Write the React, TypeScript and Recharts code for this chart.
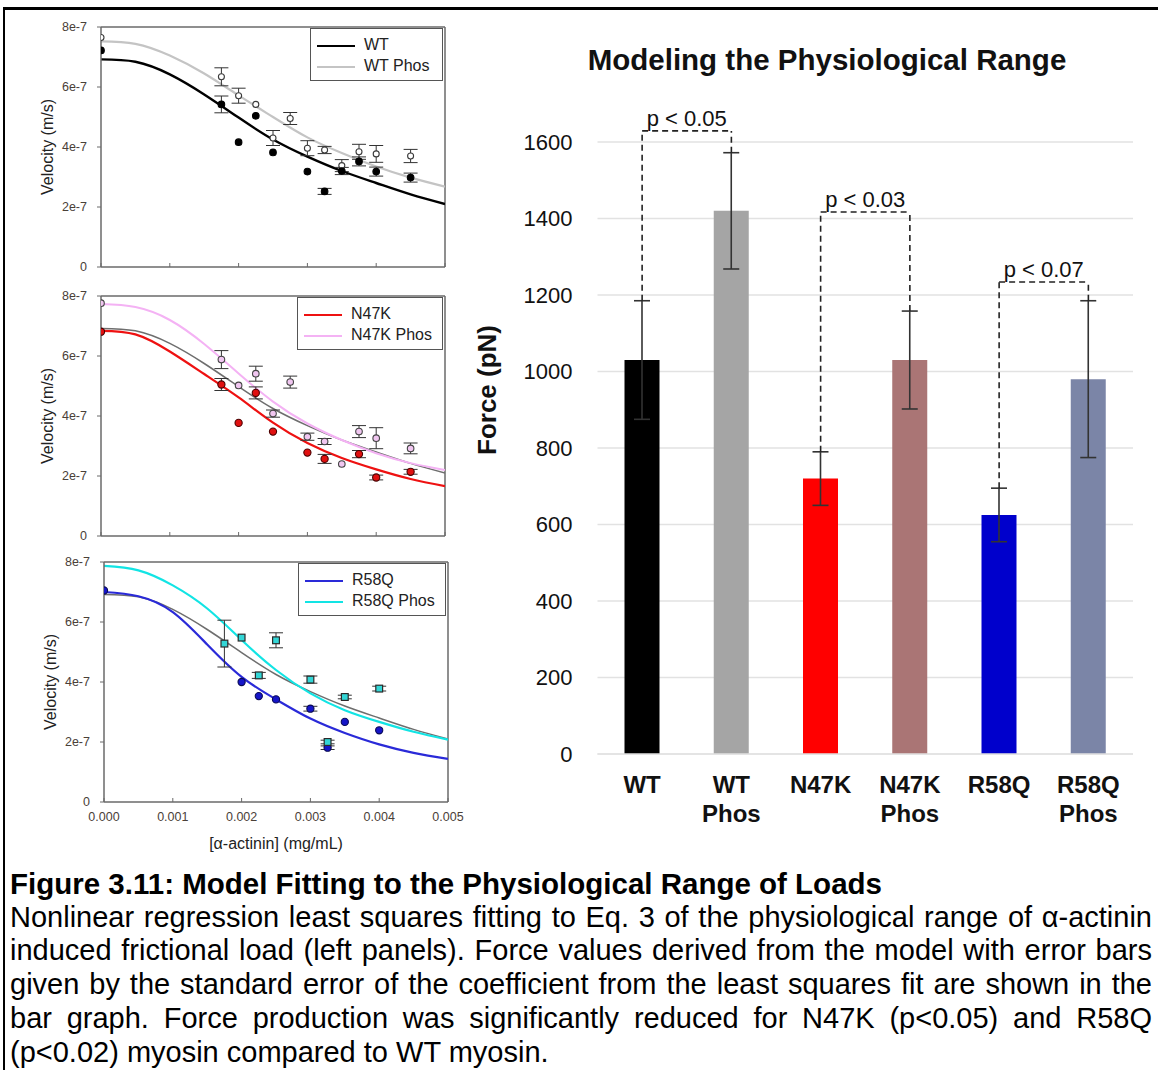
import React from 'react';
import {
  ComposedChart, Line, Scatter, ErrorBar, XAxis, YAxis, ReferenceLine,
  BarChart, Bar, Cell, CartesianGrid,
} from 'recharts';

const FONT = '"Liberation Sans", Arial, Helvetica, sans-serif';
const AXIS = '#6a6a6a';
const TICK_TXT = '#4a4038';

// ---------- left panels: velocity (x1e-7 m/s) vs [α-actinin] (mg/mL) ----------
const concTicks = [0, 0.001, 0.002, 0.003, 0.004, 0.005];
const velTicks = [0, 2, 4, 6, 8];

// fitted curves at these concentrations
const fitConc = [0, 0.0005, 0.001, 0.0015, 0.002, 0.0025, 0.003, 0.0035, 0.004, 0.0045, 0.005];
const wtFit = [6.92, 6.84, 6.42, 5.75, 4.98, 4.25, 3.68, 3.2, 2.8, 2.42, 2.1];
const wtPhosFit = [7.52, 7.44, 7.05, 6.45, 5.72, 5.0, 4.32, 3.8, 3.35, 2.98, 2.68];
const n47kFit = [6.84, 6.72, 6.15, 5.4, 4.62, 3.78, 3.1, 2.6, 2.22, 1.9, 1.66];
const n47kPhosFit = [7.73, 7.63, 7.2, 6.4, 5.42, 4.48, 3.75, 3.2, 2.76, 2.43, 2.2];
const r58qFit = [7.0, 6.86, 6.33, 5.25, 4.17, 3.42, 2.78, 2.3, 1.92, 1.64, 1.44];
const r58qPhosFit = [7.87, 7.72, 7.22, 6.45, 5.4, 4.4, 3.62, 3.06, 2.67, 2.34, 2.08];

// measured points
const wtX = [0, 0.00175, 0.002, 0.00225, 0.0025, 0.003, 0.00325, 0.0035, 0.00375, 0.004, 0.0045];
const wtV = [7.22, 5.42, 4.16, 5.04, 3.82, 3.18, 2.52, 3.2, 3.52, 3.18, 2.98];
const wtErr = [0, 0.28, 0, 0, 0, 0, 0.1, 0.12, 0.15, 0.15, 0.15];

const wtPhosX = [0, 0.00175, 0.002, 0.00225, 0.0025, 0.00275, 0.003, 0.00325, 0.0035, 0.00375, 0.004, 0.0045];
const wtPhosV = [7.65, 6.34, 5.71, 5.42, 4.3, 4.95, 3.96, 3.9, 3.38, 3.84, 3.77, 3.7];
const wtPhosErr = [0, 0.3, 0.25, 0, 0.25, 0.2, 0.25, 0.12, 0.2, 0.25, 0.28, 0.22];

const n47kX = [0, 0.00175, 0.002, 0.00225, 0.0025, 0.003, 0.00325, 0.00375, 0.004, 0.0045];
const n47kV = [6.81, 5.05, 3.77, 4.77, 3.48, 2.78, 2.57, 2.73, 1.95, 2.14];
const n47kErr = [0, 0.2, 0, 0.2, 0, 0, 0.15, 0.12, 0.08, 0.08];

const n47kPhosX = [0, 0.00175, 0.002, 0.00225, 0.0025, 0.00275, 0.003, 0.00325, 0.0035, 0.00375, 0.004, 0.0045];
const n47kPhosV = [7.76, 5.88, 5.02, 5.41, 4.08, 5.13, 3.31, 3.15, 2.4, 3.48, 3.26, 2.92];
const n47kPhosErr = [0, 0.3, 0, 0.25, 0.12, 0.2, 0.12, 0.1, 0, 0.2, 0.35, 0.18];

const r58qX = [0, 0.002, 0.00225, 0.0025, 0.003, 0.00325, 0.0035, 0.004];
const r58qV = [7.05, 4.0, 3.53, 3.42, 3.11, 1.81, 2.67, 2.39];
const r58qErr = [0, 0, 0, 0, 0.08, 0.06, 0, 0];

const r58qPhosX = [0.00175, 0.002, 0.00225, 0.0025, 0.003, 0.00325, 0.0035, 0.004];
const r58qPhosV = [5.28, 5.48, 4.22, 5.39, 4.08, 2.0, 3.5, 3.78];
const r58qPhosErr = [0.78, 0, 0.1, 0.25, 0.12, 0.06, 0.06, 0.08];

// ---------- right panel: force ----------
const groups = ['WT', 'WT Phos', 'N47K', 'N47K Phos', 'R58Q', 'R58Q Phos'];
const force = [1030, 1420, 720, 1030, 625, 980];
const forceErr = [155, 152, 70, 128, 70, 205];
const forceTicks = [0, 200, 400, 600, 800, 1000, 1200, 1400, 1600];
const barColors = ['#000000', '#a5a5a5', '#ff0000', '#aa7575', '#0000cc', '#7b85a7'];

const sigPairs = [['WT', 'WT Phos'], ['N47K', 'N47K Phos'], ['R58Q', 'R58Q Phos']];
const sigLabels = ['p < 0.05', 'p < 0.03', 'p < 0.07'];
const sigLevels = [1629, 1417, 1234];

const captionTitle = 'Figure 3.11: Model Fitting to the Physiological Range of Loads';
const captionLines = [
  'Nonlinear regression least squares fitting to Eq. 3 of the physiological range of α-actinin',
  'induced frictional load (left panels). Force values derived from the model with error bars',
  'given by the standard error of the coefficient from the least squares fit are shown in the',
  'bar graph. Force production was significantly reduced for N47K (p<0.05) and R58Q',
  '(p<0.02) myosin compared to WT myosin.',
];

const fitData = (vals: number[]) => fitConc.map((x, i) => ({ x, v: vals[i] }));
const ptData = (xs: number[], vs: number[], es: number[]) =>
  xs.map((x, i) => ({ x, v: vs[i], err: es[i] }));

type Fit = { data: { x: number; v: number }[]; color: string; w: number };
type Pts = { data: any[]; fill: string; stroke: string; r: number; square?: boolean };
type LegendItem = { name: string; color: string };

const refFit: Fit = { data: fitData(wtFit), color: '#6e6e6e', w: 1.5 };

const panels = [
  {
    id: 'wt', plotLeft: 101, plotTop: 27, showX: false, legendW: 135,
    fits: [
      { data: fitData(wtPhosFit), color: '#c4c4c4', w: 2.2 },
      { data: fitData(wtFit), color: '#000000', w: 2.4 },
    ],
    pts: [
      { data: ptData(wtPhosX, wtPhosV, wtPhosErr), fill: '#ffffff', stroke: '#3a3a3a', r: 3 },
      { data: ptData(wtX, wtV, wtErr), fill: '#000000', stroke: '#000000', r: 3.3 },
    ],
    legend: [{ name: 'WT', color: '#000000' }, { name: 'WT Phos', color: '#c4c4c4' }],
  },
  {
    id: 'n47k', plotLeft: 101, plotTop: 296, showX: false, legendW: 148,
    fits: [
      refFit,
      { data: fitData(n47kPhosFit), color: '#f4b2f4', w: 2 },
      { data: fitData(n47kFit), color: '#ee1111', w: 2.2 },
    ],
    pts: [
      { data: ptData(n47kPhosX, n47kPhosV, n47kPhosErr), fill: '#f0c6f0', stroke: '#444444', r: 3.3 },
      { data: ptData(n47kX, n47kV, n47kErr), fill: '#e01010', stroke: '#4a0000', r: 3.6 },
    ],
    legend: [{ name: 'N47K', color: '#ee1111' }, { name: 'N47K Phos', color: '#f4b2f4' }],
  },
  {
    id: 'r58q', plotLeft: 104, plotTop: 562, showX: true, legendW: 150,
    fits: [
      refFit,
      { data: fitData(r58qPhosFit), color: '#12e4e4', w: 2.2 },
      { data: fitData(r58qFit), color: '#2a2ad8', w: 2.2 },
    ],
    pts: [
      { data: ptData(r58qX, r58qV, r58qErr), fill: '#1515c8', stroke: '#0a0a55', r: 3.6 },
      { data: ptData(r58qPhosX, r58qPhosV, r58qPhosErr), fill: '#33d6d6', stroke: '#2a2a2a', r: 3.4, square: true },
    ],
    legend: [{ name: 'R58Q', color: '#2a2ad8' }, { name: 'R58Q Phos', color: '#12e4e4' }],
  },
];

const PLOT_W = 344;
const PLOT_H = 240;
const RIGHT_PAD = 24;

const marker = (s: Pts) => (p: any) => {
  if (p.cx == null || p.cy == null) return <g />;
  return s.square ? (
    <rect x={p.cx - s.r} y={p.cy - s.r} width={s.r * 2} height={s.r * 2} fill={s.fill} stroke={s.stroke} strokeWidth={1.2} />
  ) : (
    <circle cx={p.cx} cy={p.cy} r={s.r} fill={s.fill} stroke={s.stroke} strokeWidth={1.1} />
  );
};

function VelocityPanel(props: {
  plotLeft: number; plotTop: number; showX: boolean; legendW: number;
  fits: Fit[]; pts: Pts[]; legend: LegendItem[];
}) {
  const { plotLeft, plotTop, showX, legendW, fits, pts, legend } = props;
  const axisH = showX ? 82 : 10;
  const left = plotLeft - 101;
  const top = plotTop - 10;
  const width = 101 + PLOT_W + RIGHT_PAD;
  const height = 10 + PLOT_H + axisH + 2;
  const tickStyle = { fontSize: 12.5, fill: TICK_TXT, fontFamily: FONT };
  return (
    <>
      <div style={{ position: 'absolute', left, top }}>
        <ComposedChart width={width} height={height} margin={{ top: 10, right: RIGHT_PAD, left: 0, bottom: 2 }}>
          <XAxis
            type="number" dataKey="x" domain={[0, 0.005]} ticks={concTicks} allowDataOverflow
            height={axisH} tickSize={-4} tickMargin={14}
            axisLine={{ stroke: AXIS, strokeWidth: 1.5 }} tickLine={{ stroke: AXIS }}
            tick={tickStyle}
            tickFormatter={(t: number) => (showX ? t.toFixed(3) : '')}
            label={showX ? { value: '[α-actinin] (mg/mL)', position: 'center', fontSize: 16, fill: '#222', fontFamily: FONT } : undefined}
          />
          <YAxis
            type="number" domain={[0, 8]} ticks={velTicks} allowDataOverflow width={101}
            tickSize={4} tickMargin={10}
            axisLine={{ stroke: AXIS, strokeWidth: 1.5 }} tickLine={{ stroke: AXIS }}
            tick={tickStyle}
            tickFormatter={(t: number) => (t === 0 ? '0' : `${t}e-7`)}
            label={{ value: 'Velocity (m/s)', angle: -90, position: 'center', dx: -3, fontSize: 16, fill: '#222', fontFamily: FONT }}
          />
          <ReferenceLine y={8} stroke={AXIS} strokeWidth={1.5} />
          <ReferenceLine x={0.005} stroke={AXIS} strokeWidth={1.5} />
          {fits.map((f, i) => (
            <Line key={'f' + i} data={f.data} dataKey="v" type="natural" stroke={f.color} strokeWidth={f.w}
              dot={false} activeDot={false} isAnimationActive={false} />
          ))}
          {pts.map((s, i) => (
            <Scatter key={'s' + i} data={s.data} dataKey="v" shape={marker(s)} isAnimationActive={false}>
              <ErrorBar dataKey="err" direction="y" width={7} stroke="#333" strokeWidth={1} />
            </Scatter>
          ))}
        </ComposedChart>
      </div>
      <div style={{
        position: 'absolute', left: plotLeft + PLOT_W - legendW, top: plotTop + 1, width: legendW - 2, height: 53,
        border: '1.5px solid #555', background: '#fff', boxSizing: 'border-box',
      }}>
        {legend.map((l, i) => (
          <div key={l.name}>
            <div style={{ position: 'absolute', left: 6, top: 16 + i * 21, width: 38, height: 2.4, background: l.color }} />
            <div style={{ position: 'absolute', left: 53, top: 6 + i * 21, fontSize: 16, lineHeight: '20px', color: '#222' }}>{l.name}</div>
          </div>
        ))}
      </div>
    </>
  );
}

const CatTick = (p: any) => {
  const [a, b] = String(p.payload.value).split(' ');
  return (
    <text x={p.x} y={p.y} textAnchor="middle" fontWeight="bold" fontSize={24} fontFamily={FONT} fill="#111">
      <tspan x={p.x} dy={39}>{a}</tspan>
      {b ? <tspan x={p.x} dy={29}>{b}</tspan> : null}
    </text>
  );
};

function ForceChart() {
  const barData = groups.map((g, i) => ({ g, force: force[i], err: forceErr[i] }));
  const errTop = (g: string) => {
    const i = groups.indexOf(g);
    return force[i] + forceErr[i];
  };
  const dash = { stroke: '#222', strokeWidth: 1.6, strokeDasharray: '6 4', ifOverflow: 'visible' as const };
  return (
    <>
      <div style={{
        position: 'absolute', left: 527, top: 42, width: 600, textAlign: 'center',
        fontSize: 29.5, fontWeight: 'bold', lineHeight: '36px', color: '#111',
      }}>
        Modeling the Physiological Range
      </div>
      <div style={{ position: 'absolute', left: 460, top: 90 }}>
        <BarChart width={690} height={760} data={barData} margin={{ top: 52, right: 17, left: 0, bottom: 16 }} barSize={35}>
          <CartesianGrid vertical={false} stroke="#e2e2e2" strokeWidth={1.5} />
          <XAxis dataKey="g" interval={0} height={80} tickLine={false} tickSize={0} tickMargin={0}
            axisLine={{ stroke: '#e2e2e2', strokeWidth: 1.5 }} tick={CatTick} />
          <YAxis domain={[0, 1600]} ticks={forceTicks} allowDataOverflow width={137.5}
            axisLine={false} tickLine={false} tickSize={0} tickMargin={25}
            tick={{ fontSize: 22, fill: '#111', fontFamily: FONT }}
            label={{ value: 'Force (pN)', angle: -90, position: 'center', dx: -42, dy: -58, fontSize: 26, fontWeight: 'bold', fill: '#111', fontFamily: FONT }}
          />
          <Bar dataKey="force" isAnimationActive={false}>
            {barData.map((d, i) => <Cell key={d.g} fill={barColors[i]} />)}
            <ErrorBar dataKey="err" direction="y" width={8} stroke="#333" strokeWidth={1.6} />
          </Bar>
          {sigPairs.map(([a, b], i) => (
            <React.Fragment key={a}>
              <ReferenceLine {...dash} segment={[{ x: a, y: errTop(a) }, { x: a, y: sigLevels[i] }]} />
              <ReferenceLine {...dash} segment={[{ x: b, y: errTop(b) }, { x: b, y: sigLevels[i] }]} />
              <ReferenceLine {...dash} segment={[{ x: a, y: sigLevels[i] }, { x: b, y: sigLevels[i] }]}
                label={{ value: sigLabels[i], position: 'top', offset: 5, fontSize: 22, fill: '#111', fontFamily: FONT }} />
            </React.Fragment>
          ))}
        </BarChart>
      </div>
    </>
  );
}

function Caption() {
  return (
    <div style={{ position: 'absolute', left: 10, top: 867, width: 1142, fontSize: 29, lineHeight: '33.7px', color: '#000' }}>
      <div style={{ fontWeight: 'bold', fontSize: 29.5, whiteSpace: 'nowrap' }}>{captionTitle}</div>
      {captionLines.map((l, i) => (
        <div key={i} style={{ textAlign: 'justify', textAlignLast: i < captionLines.length - 1 ? 'justify' : 'left' }}>{l}</div>
      ))}
    </div>
  );
}

export default function App() {
  return (
    <div style={{ position: 'absolute', left: 0, top: 0, width: 1158, height: 1070, background: '#fff', fontFamily: FONT, overflow: 'hidden' }}>
      <div style={{ position: 'absolute', left: 3, top: 7, width: 1155, height: 3, background: '#000' }} />
      <div style={{ position: 'absolute', left: 3, top: 7, width: 2, height: 1063, background: '#000' }} />
      {panels.map((p) => (
        <VelocityPanel key={p.id} plotLeft={p.plotLeft} plotTop={p.plotTop} showX={p.showX} legendW={p.legendW}
          fits={p.fits} pts={p.pts} legend={p.legend} />
      ))}
      <ForceChart />
      <Caption />
    </div>
  );
}
